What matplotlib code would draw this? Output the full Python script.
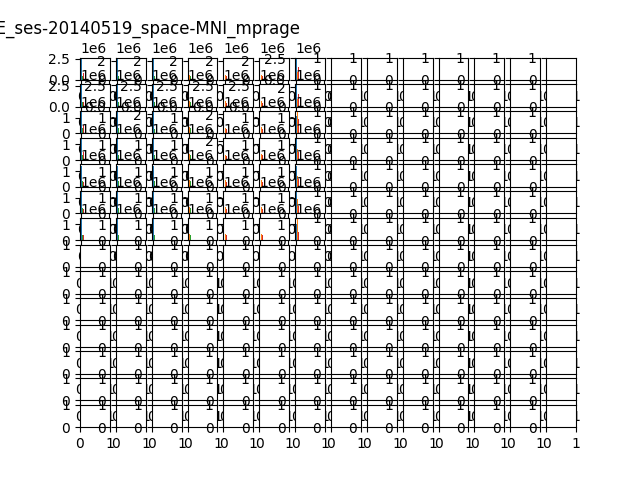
import matplotlib
matplotlib.use("Agg")
import matplotlib.pyplot as plt

title = "sub-PD0104JE_ses-20140519_space-MNI_mprage"

n_rows, n_cols = 14, 14

# histogram bin edges (intensity) shared by every filled panel
bin_edges = [0, 100, 200, 300, 400, 500, 600, 700, 800, 900, 1000]

# voxel count in the first bin, one value per volume (4 volumes -> C0..C3)
# rows / columns of the filled 7x7 block, counts in millions
peak_c0 = [
    [2.50, 2.20, 2.20, 2.20, 2.20, 2.20, 2.48],
    [2.52, 2.50, 2.50, 2.50, 2.50, 2.50, 2.20],
    [1.35, 1.35, 2.20, 1.35, 2.20, 1.35, 1.10],
    [1.35, 1.35, 1.35, 1.35, 2.20, 1.35, 1.35],
    [1.35, 1.35, 1.35, 1.35, 1.35, 1.35, 1.35],
    [1.35, 1.35, 1.35, 1.35, 1.35, 1.35, 1.35],
    [1.35, 1.35, 1.35, 1.35, 1.35, 1.35, 1.00],
]
peak_c1 = [
    [0.60, 0.50, 0.50, 0.50, 0.50, 0.50, 0.90],
    [0.70, 0.60, 0.60, 0.60, 0.60, 0.60, 0.80],
    [0.40, 0.40, 0.50, 0.40, 0.50, 0.40, 1.35],
    [0.40, 0.40, 0.40, 0.40, 0.50, 0.40, 0.70],
    [0.40, 0.40, 0.40, 0.40, 0.40, 0.40, 0.70],
    [0.40, 0.40, 0.40, 0.40, 0.40, 0.40, 0.95],
    [0.40, 0.40, 0.40, 0.40, 0.40, 0.40, 1.35],
]
peak_c2 = [
    [0.45, 0.45, 0.45, 0.45, 0.45, 0.45, 0.80],
    [0.50, 0.50, 0.50, 0.50, 0.50, 0.50, 0.70],
    [0.35, 0.35, 0.45, 0.35, 0.45, 0.35, 0.60],
    [0.35, 0.35, 0.35, 0.35, 0.45, 0.35, 0.90],
    [0.35, 0.35, 0.35, 0.35, 0.35, 0.35, 0.90],
    [0.35, 0.35, 0.35, 0.35, 0.35, 0.35, 0.80],
    [0.35, 0.35, 0.35, 0.35, 0.35, 0.35, 0.75],
]
peak_c3 = [
    [0.80, 0.40, 0.40, 0.40, 0.40, 0.40, 1.50],
    [0.50, 0.40, 0.40, 0.40, 0.40, 0.40, 1.30],
    [0.50, 0.30, 0.40, 0.30, 0.40, 0.30, 0.90],
    [0.50, 0.30, 0.30, 0.30, 0.40, 0.30, 0.50],
    [0.30, 0.30, 0.30, 0.30, 0.30, 0.30, 0.50],
    [0.30, 0.30, 0.30, 0.30, 0.30, 0.30, 0.50],
    [0.30, 0.30, 0.30, 0.30, 0.30, 0.30, 0.50],
]

fig, axes = plt.subplots(n_rows, n_cols)

for r in range(len(peak_c0)):
    for c in range(len(peak_c0[r])):
        ax = axes[r][c]
        peaks = [peak_c0[r][c], peak_c1[r][c], peak_c2[r][c], peak_c3[r][c]]
        # every volume puts its background voxels in the first bin
        ax.hist([[bin_edges[0]]] * 4, bins=bin_edges,
                weights=[[p * 1e6] for p in peaks])

axes[0][0].set_title(title)

plt.savefig("out.png")
